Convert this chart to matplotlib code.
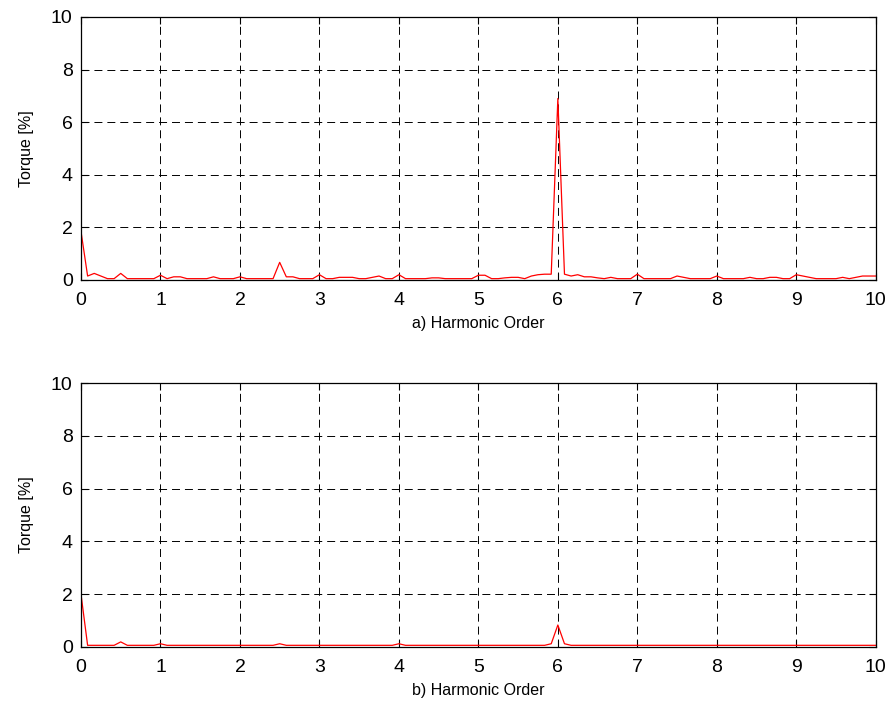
import numpy as np
import matplotlib
matplotlib.use("Agg")
import matplotlib.pyplot as plt

plt.rcParams['font.family'] = ['Liberation Sans', 'DejaVu Sans']

# harmonic order axis, 1/12 resolution from 0 to 10
order = np.arange(121) / 12.0

# a) torque spectrum before compensation [%]
torque_a = [
    1.85, 0.15, 0.25, 0.15, 0.05, 0.05, 0.25, 0.05, 0.05, 0.05, 0.05, 0.05,
    0.18, 0.05, 0.12, 0.12, 0.05, 0.05, 0.05, 0.05, 0.12, 0.05, 0.05, 0.05,
    0.12, 0.05, 0.05, 0.05, 0.05, 0.05, 0.67, 0.12, 0.12, 0.05, 0.05, 0.05,
    0.20, 0.05, 0.05, 0.10, 0.10, 0.10, 0.05, 0.05, 0.10, 0.15, 0.05, 0.05,
    0.20, 0.05, 0.05, 0.05, 0.05, 0.08, 0.08, 0.05, 0.05, 0.05, 0.05, 0.05,
    0.18, 0.18, 0.05, 0.05, 0.08, 0.10, 0.10, 0.05, 0.15, 0.20, 0.22, 0.22,
    6.90, 0.22, 0.15, 0.20, 0.12, 0.12, 0.08, 0.05, 0.10, 0.05, 0.05, 0.05,
    0.22, 0.05, 0.05, 0.05, 0.05, 0.05, 0.15, 0.10, 0.05, 0.05, 0.05, 0.05,
    0.15, 0.05, 0.05, 0.05, 0.05, 0.10, 0.05, 0.05, 0.10, 0.10, 0.05, 0.05,
    0.20, 0.15, 0.10, 0.05, 0.05, 0.05, 0.05, 0.10, 0.05, 0.10, 0.15, 0.15,
    0.15,
]

# b) torque spectrum after compensation [%]
torque_b = [0.06] * 121
torque_b[0] = 2.0
torque_b[6] = 0.19
torque_b[12] = 0.12
torque_b[30] = 0.12
torque_b[48] = 0.12
torque_b[71] = 0.12
torque_b[72] = 0.83
torque_b[73] = 0.12

xticks = list(range(0, 11))
yticks = [0, 2, 4, 6, 8, 10]

fig = plt.figure(figsize=(8.9, 7.07), dpi=100)
ax1 = fig.add_axes([0.091, 0.604, 0.893, 0.372])
ax2 = fig.add_axes([0.091, 0.085, 0.893, 0.373])

for ax, data, lab in [(ax1, torque_a, 'a) Harmonic Order'),
                      (ax2, torque_b, 'b) Harmonic Order')]:
    ax.plot(order, data, color='red', lw=0.9)
    ax.set_xlim(0, 10)
    ax.set_ylim(0, 10)
    ax.set_xticks(xticks)
    ax.set_yticks(yticks)
    ax.grid(True, color='black', linestyle=(0, (8.2, 5.1)), lw=0.7)
    ax.tick_params(direction='in', top=True, right=True, length=5,
                   labelsize=14)
    ax.tick_params(axis='x', pad=9)
    ax.tick_params(axis='y', pad=6)
    ax.set_xlabel(lab, fontsize=11.5, labelpad=5)
    ax.set_ylabel('Torque [%]', fontsize=11.5, labelpad=12)
    for s in ax.spines.values():
        s.set_linewidth(0.9)

fig.savefig('out.png', dpi=100)
